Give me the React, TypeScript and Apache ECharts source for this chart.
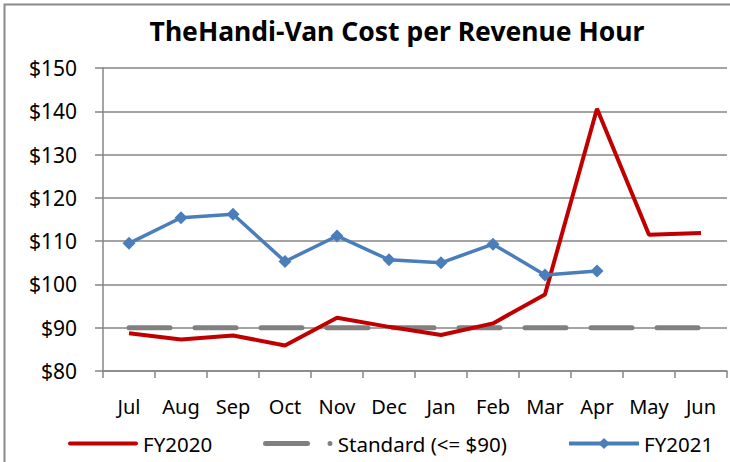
import React, { useEffect, useRef } from "react";
import * as echarts from "echarts";

const months = ["Jul", "Aug", "Sep", "Oct", "Nov", "Dec", "Jan", "Feb", "Mar", "Apr", "May", "Jun"];
const fy2020 = [88.7, 87.3, 88.2, 85.9, 92.3, 90.2, 88.3, 91.0, 97.7, 140.6, 111.5, 111.9];
const standard = [90, 90, 90, 90, 90, 90, 90, 90, 90, 90, 90, 90];
const fy2021 = [109.5, 115.4, 116.2, 105.3, 111.2, 105.7, 105.0, 109.3, 102.2, 103.1];
const titleText = "TheHandi-Van Cost per Revenue Hour";
const seriesNames = ["FY2020", "Standard (<= $90)", "FY2021"];
const FONT = "'Noto Sans', 'Open Sans', sans-serif";

const barIcon = "path://M2,0H68A2,2,0,0,1,68,4H2A2,2,0,0,1,2,0Z";
const dashDotIcon =
  "path://M2.5,0H44.5A2.5,2.5,0,0,1,44.5,5H2.5A2.5,2.5,0,0,1,2.5,0ZM67,0A2.5,2.5,0,0,1,67,5A2.5,2.5,0,0,1,67,0Z";

export default function App() {
  const ref = useRef<HTMLDivElement>(null);
  useEffect(() => {
    if (!ref.current) return;
    const chart = echarts.init(ref.current, undefined, { renderer: "svg" });
    const axisGray = "#868686";
    const legendText = { fontFamily: FONT, fontSize: 20.5, color: "#000" };
    chart.setOption({
      animation: false,
      backgroundColor: "#ffffff",
      title: {
        text: titleText,
        left: 392,
        textAlign: "center",
        top: 12,
        textStyle: { fontFamily: FONT, fontSize: 26.5, fontWeight: "bold", color: "#000" },
      },
      graphic: [
        {
          type: "rect",
          shape: { x: 4.5, y: 4.5, width: 800, height: 800 },
          style: { fill: "none", stroke: "#8a8a8a", lineWidth: 2 },
          z: -1,
          silent: true,
        },
      ],
      legend: [
        {
          top: 428,
          left: 63,
          itemWidth: 70,
          itemHeight: 4,
          textStyle: legendText,
          data: [{ name: seriesNames[0], icon: barIcon }],
        },
        {
          top: 428,
          left: 258,
          itemWidth: 70,
          itemHeight: 5,
          textStyle: legendText,
          data: [{ name: seriesNames[1], icon: dashDotIcon }],
        },
        {
          top: 428,
          left: 562,
          itemWidth: 70,
          itemHeight: 14,
          textStyle: legendText,
          lineStyle: { width: 4 },
          data: [seriesNames[2]],
        },
      ],
      grid: { left: 103, right: 3, top: 68, bottom: 91 },
      xAxis: {
        type: "category",
        data: months,
        boundaryGap: true,
        axisLine: { lineStyle: { color: axisGray, width: 1.5 } },
        axisTick: { show: true, length: 7, lineStyle: { color: axisGray, width: 1.5 } },
        axisLabel: { fontFamily: FONT, fontSize: 20, color: "#000", margin: 25 },
      },
      yAxis: {
        type: "value",
        min: 80,
        max: 150,
        interval: 10,
        axisLine: { show: true, lineStyle: { color: axisGray, width: 1.5 } },
        axisTick: { show: true, length: 8, lineStyle: { color: axisGray, width: 1.5 } },
        splitLine: { lineStyle: { color: axisGray, width: 1.5 } },
        axisLabel: { fontFamily: FONT, fontSize: 21, color: "#000", margin: 26, formatter: "${value}" },
      },
      series: [
        {
          name: seriesNames[0],
          type: "line",
          data: fy2020,
          symbol: "none",
          lineStyle: { color: "#C00000", width: 4 },
          itemStyle: { color: "#C00000" },
          z: 3,
        },
        {
          name: seriesNames[1],
          type: "line",
          data: standard,
          symbol: "none",
          lineStyle: { color: "#808080", width: 5, type: [41, 25], cap: "round" },
          itemStyle: { color: "#808080" },
          z: 2,
        },
        {
          name: seriesNames[2],
          type: "line",
          data: fy2021,
          symbol: "diamond",
          symbolSize: 13,
          lineStyle: { color: "#4A7EBB", width: 3.5 },
          itemStyle: { color: "#4A7EBB" },
          z: 4,
        },
      ],
    });
    return () => chart.dispose();
  }, []);
  return <div ref={ref} style={{ position: "fixed", left: 0, top: 0, width: 730, height: 462 }} />;
}
